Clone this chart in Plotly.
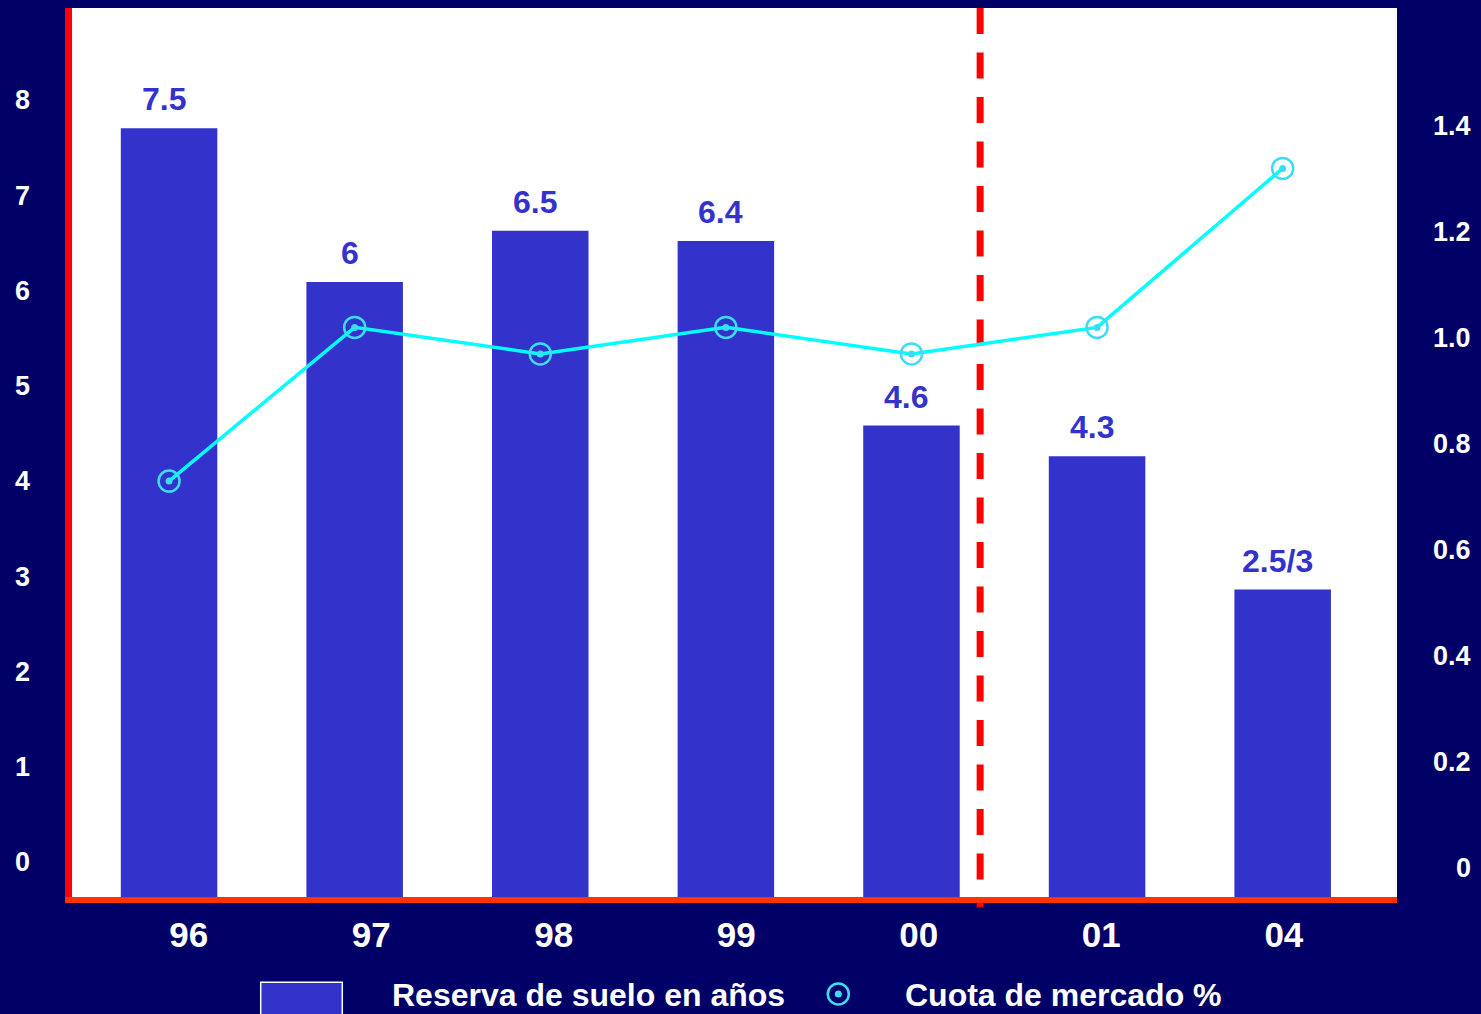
import plotly.graph_objects as go

# Data
years = ["96", "97", "98", "99", "00", "01", "04"]
reserve_years = [7.5, 6, 6.5, 6.4, 4.6, 4.3, 3.0]          # Reserva de suelo en años
reserve_labels = ["7.5", "6", "6.5", "6.4", "4.6", "4.3", "2.5/3"]
market_share = [0.73, 1.02, 0.97, 1.02, 0.97, 1.02, 1.32]   # Cuota de mercado %

left_tick_vals = [0, 1, 2, 3, 4, 5, 6, 7, 8]
right_tick_vals = [0, 0.2, 0.4, 0.6, 0.8, 1.0, 1.2, 1.4]
right_tick_text = ["0", "0.2", "0.4", "0.6", "0.8", "1.0", "1.2", "1.4"]

legend_bar = "Reserva de suelo en años"
legend_line = "Cuota de mercado %"

# Styling
NAVY = "#000066"
BAR = "#3333CC"
CYAN = "#00FFFF"
RING = "#3CDCF2"
FONT = "Liberation Sans, Arial, sans-serif"

W, H = 1481, 1014
ML, MR, MT, MB = 72, 84, 8, 117
PW, PH = W - ML - MR, H - MT - MB


def px_x(px):
    return (px - ML) / PW


def px_y(py):
    return (H - MB - py) / PH


fig = go.Figure()

fig.add_trace(go.Bar(
    x=years, y=reserve_years, width=0.52,
    marker=dict(color=BAR, line=dict(width=0)),
    showlegend=False, hoverinfo="x+y",
))

fig.add_trace(go.Scatter(
    x=years, y=market_share, yaxis="y2", mode="lines+markers",
    line=dict(color=CYAN, width=3.5),
    marker=dict(symbol="circle-open", size=21, color=RING, line=dict(width=2.5)),
    showlegend=False,
))
fig.add_trace(go.Scatter(
    x=years, y=market_share, yaxis="y2", mode="markers",
    marker=dict(symbol="circle", size=7, color=RING),
    showlegend=False, hoverinfo="skip",
))

# Carrier trace for the labelled category / left value axes
fig.add_trace(go.Scatter(
    x=years, y=[None] * len(years), xaxis="x2", yaxis="y3",
    mode="markers", showlegend=False, hoverinfo="skip",
))

annotations = []
# value labels above the bars (category index positions on the x axis)
for i, (val, lab) in enumerate(zip(reserve_years, reserve_labels)):
    annotations.append(dict(
        x=i, y=val, xref="x", yref="y", text=lab, showarrow=False,
        yanchor="middle", yshift=29, xshift=-5,
        font=dict(family=FONT, size=32, color=BAR, weight="bold"),
    ))

for v, t in zip(right_tick_vals, right_tick_text):
    annotations.append(dict(
        x=px_x(1473), y=v, xref="paper", yref="y2", text=t, showarrow=False,
        xanchor="right", yanchor="middle",
        font=dict(family=FONT, size=27, color="white", weight="bold"),
    ))

legend_font = dict(family=FONT, size=32, color="white", weight="bold")
annotations.append(dict(
    x=px_x(390), y=px_y(995), xref="paper", yref="paper", text=legend_bar,
    showarrow=False, xanchor="left", yanchor="middle", font=legend_font,
))
annotations.append(dict(
    x=px_x(903), y=px_y(995), xref="paper", yref="paper", text=legend_line,
    showarrow=False, xanchor="left", yanchor="middle", font=legend_font,
))

shapes = [
    # forecast separator
    dict(type="line", xref="x", yref="paper", x0=4.37, x1=4.37, y0=1, y1=px_y(907),
         line=dict(color="#FF0000", width=7, dash="26px,18.5px"), layer="below"),
    # legend swatch for the bars
    dict(type="rect", xref="paper", yref="paper",
         x0=px_x(260.7), x1=px_x(342.3), y0=px_y(982.3), y1=px_y(1040),
         fillcolor=BAR, line=dict(color="white", width=1.5)),
    # legend symbol for the line
    dict(type="circle", xref="paper", yref="paper", xsizemode="pixel", ysizemode="pixel",
         xanchor=px_x(838.3), yanchor=px_y(994), x0=-10.5, x1=10.5, y0=-10.5, y1=10.5,
         line=dict(color=RING, width=2.5)),
    dict(type="circle", xref="paper", yref="paper", xsizemode="pixel", ysizemode="pixel",
         xanchor=px_x(838.3), yanchor=px_y(994), x0=-3.5, x1=3.5, y0=-3.5, y1=3.5,
         fillcolor=RING, line=dict(width=0)),
]

fig.update_layout(
    width=W, height=H,
    margin=dict(l=ML, r=MR, t=MT, b=MB, pad=0),
    paper_bgcolor=NAVY, plot_bgcolor="white",
    showlegend=False,
    font=dict(family=FONT, color="white"),
    xaxis=dict(
        type="category", range=[-0.523, 6.616], showticklabels=False,
        showgrid=False, zeroline=False, ticks="",
        showline=True, linecolor="#FF3300", linewidth=6,
    ),
    xaxis2=dict(
        type="category", overlaying="x", anchor="y", side="bottom",
        range=[-0.64, 6.62], showgrid=False, zeroline=False, showline=False,
        ticks="", ticklabelstandoff=14,
        tickfont=dict(family=FONT, size=35, color="white", weight="bold"),
    ),
    yaxis=dict(
        range=[0, PH / 102.5], showticklabels=False, showgrid=False,
        zeroline=False, ticks="",
        showline=True, linecolor="#FF0000", linewidth=7,
    ),
    yaxis2=dict(
        overlaying="y", side="right", anchor="x",
        range=[-0.0547, 1.6226], showticklabels=False, showgrid=False,
        zeroline=False, ticks="", showline=False,
    ),
    yaxis3=dict(
        overlaying="y", side="left", anchor="x",
        range=[-0.367, 8.966], tickvals=left_tick_vals,
        showgrid=False, zeroline=False, showline=False, ticks="",
        ticklabelstandoff=41,
        tickfont=dict(family=FONT, size=27, color="white", weight="bold"),
    ),
    annotations=annotations,
    shapes=shapes,
    bargap=0.48,
)

fig.write_html("out.html")
